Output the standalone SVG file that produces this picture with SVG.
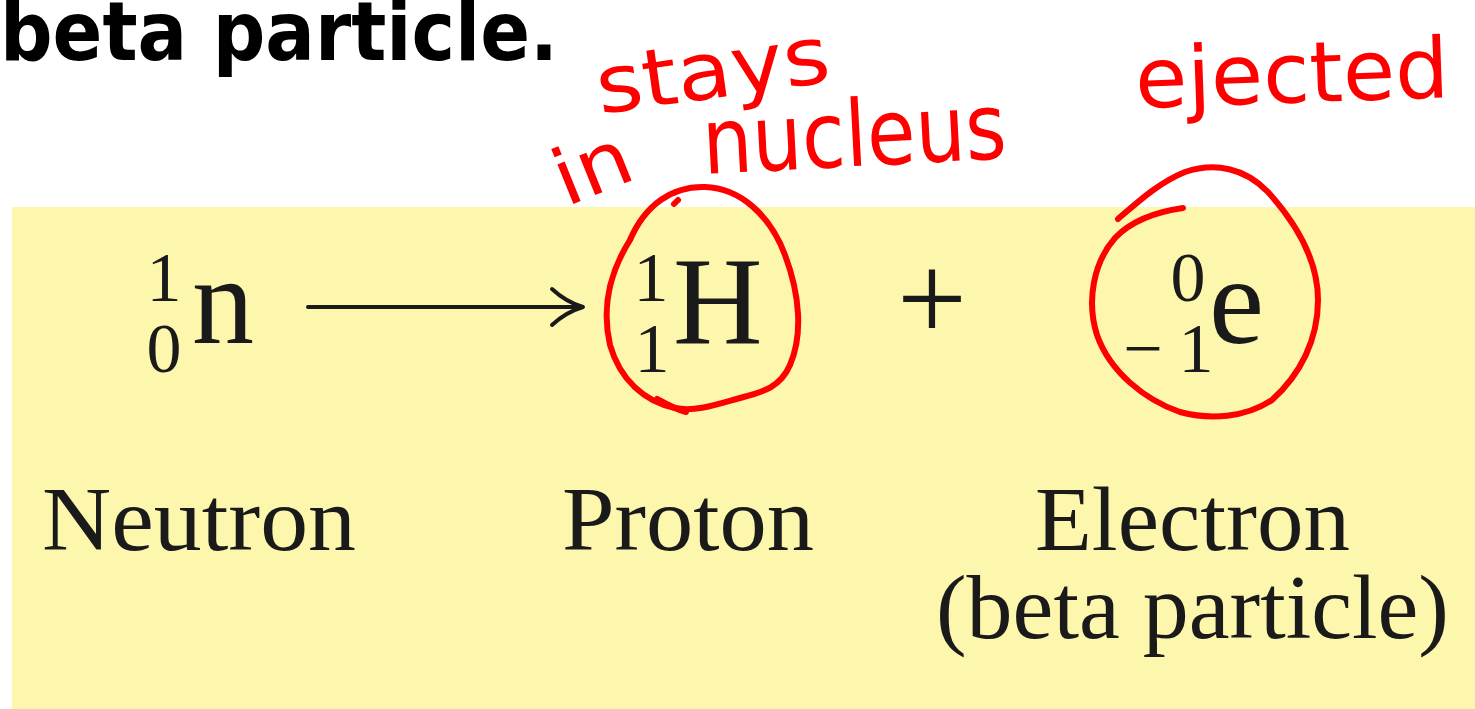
<svg xmlns="http://www.w3.org/2000/svg" width="1475" height="709" viewBox="0 0 1475 709">
  <defs>
    <style>
      .title { font-family: "DejaVu Sans", "Liberation Sans", sans-serif; font-weight: bold; font-size: 82px; fill: #000; }
      .eq { font-family: "Liberation Serif", "Times New Roman", serif; fill: #1a1a1a; }
      .big { font-size: 124px; }
      .scr { font-size: 70px; text-anchor: middle; }
      .lbl { font-family: "Liberation Serif", "Times New Roman", serif; font-size: 90px; fill: #1a1a1a; }
      .hand { font-family: "DejaVu Sans", "Liberation Sans", sans-serif; fill: #ff0000; }
      .ring { fill: none; stroke: #ff0000; stroke-width: 6; stroke-linecap: round; stroke-linejoin: round; }
      .arrow { fill: none; stroke: #1a1a1a; stroke-width: 4; stroke-linecap: round; stroke-linejoin: round; }
    </style>
  </defs>

  <rect x="0" y="0" width="1475" height="709" fill="#ffffff"/>
  <rect id="panel" x="12" y="207" width="1463" height="502" fill="#fdf7ae"/>

  <g id="title">
    <text class="title" x="0" y="60" textLength="558" lengthAdjust="spacingAndGlyphs">beta particle.</text>
  </g>

  <g id="neutron">
    <text class="eq scr" x="164" y="301">1</text>
    <text class="eq scr" x="164" y="372">0</text>
    <text class="eq big" x="192" y="343">n</text>
    <text class="lbl" x="42" y="550" textLength="314" lengthAdjust="spacingAndGlyphs">Neutron</text>
  </g>

  <g id="proton">
    <text class="eq scr" x="651" y="301">1</text>
    <text class="eq scr" x="652" y="372">1</text>
    <text class="eq big" x="673" y="343">H</text>
    <text class="lbl" x="562" y="550" textLength="252" lengthAdjust="spacingAndGlyphs">Proton</text>
  </g>

  <g id="plus">
    <text class="eq" x="932" y="340" font-size="124" text-anchor="middle">+</text>
  </g>

  <g id="electron">
    <text class="eq scr" x="1188" y="301">0</text>
    <text class="eq scr" x="1143" y="372">−</text>
    <text class="eq scr" x="1196" y="372">1</text>
    <text class="eq big" x="1209" y="343">e</text>
    <text class="lbl" x="1035" y="550" textLength="315" lengthAdjust="spacingAndGlyphs">Electron</text>
    <text class="lbl" x="936" y="638" textLength="513" lengthAdjust="spacingAndGlyphs">(beta particle)</text>
  </g>

  <g id="connectors">
    <path class="arrow" d="M 308 307 L 580 307"/>
    <path class="arrow" d="M 552 289 Q 566 302 583 307 Q 566 312 552 325"/>
  </g>

  <g id="annotations">
    <text class="hand" font-size="80" transform="translate(600 114) rotate(-8)" x="0" y="0" textLength="235" lengthAdjust="spacingAndGlyphs">stays</text>
    <text class="hand" font-size="78" transform="translate(566 207) rotate(-22)" x="0" y="0" textLength="78" lengthAdjust="spacingAndGlyphs">in</text>
    <text class="hand" font-size="92" transform="translate(704 174) rotate(-3)" x="0" y="0" textLength="304" lengthAdjust="spacingAndGlyphs">nucleus</text>
    <text class="hand" font-size="84" transform="translate(1136 108) rotate(-2)" x="0" y="0" textLength="314" lengthAdjust="spacingAndGlyphs">ejected</text>
    <path class="ring" d="M 674 204 L 678 200"/>
    <path class="ring" d="M 630 240 C 645 205 672 186 705 187 C 740 188 770 215 785 255 C 800 295 803 335 790 365 C 780 388 762 392 740 398 C 715 405 695 412 675 408 C 645 402 620 380 610 345 C 602 310 608 275 630 240"/>
    <path class="ring" d="M 657 399 C 668 405 678 410 686 412"/>
    <path class="ring" d="M 1118 219 C 1140 200 1160 182 1185 172 C 1215 162 1245 168 1268 192 C 1295 222 1318 260 1318 300 C 1318 340 1300 375 1272 400 C 1245 418 1210 420 1180 412 C 1145 400 1110 372 1097 335 C 1086 300 1094 262 1115 238 C 1132 220 1155 212 1183 208"/>
  </g>
</svg>
